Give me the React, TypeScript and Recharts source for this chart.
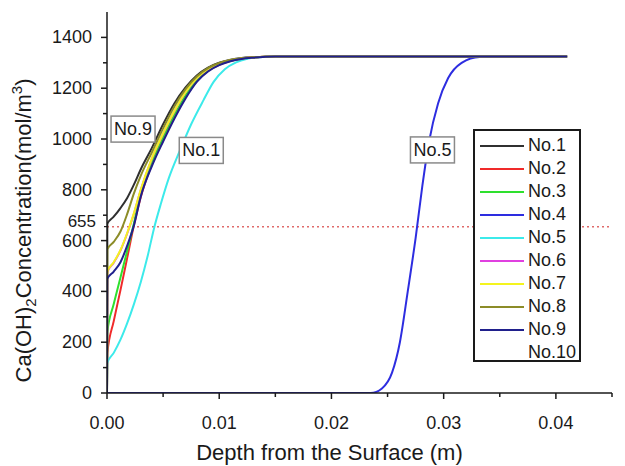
import React from "react";
import {
  LineChart,
  Line,
  XAxis,
  YAxis,
  ReferenceLine,
  ReferenceDot,
  Legend,
  Label,
} from "recharts";

// depth (m), concentration (mol/m3) pairs
const no1 = [[0, 0], [0.00003, 666], [0.0006, 694], [0.0012, 728], [0.0018, 768], [0.0025, 830], [0.003, 880], [0.004, 965], [0.005, 1058], [0.006, 1140], [0.007, 1203], [0.008, 1250], [0.009, 1281], [0.01, 1300], [0.011, 1312], [0.012, 1319], [0.013, 1322], [0.015, 1325], [0.041, 1325]];
const no2 = [[0, 0], [0.00003, 157], [0.0006, 283], [0.0012, 405], [0.0018, 532], [0.0024, 660], [0.003, 770], [0.004, 900], [0.005, 995], [0.006, 1085], [0.007, 1165], [0.008, 1228], [0.009, 1268], [0.01, 1292], [0.011, 1307], [0.012, 1316], [0.013, 1321], [0.015, 1325], [0.041, 1325]];
const no3 = [[0, 0], [0.00003, 240], [0.0006, 350], [0.0012, 455], [0.0018, 560], [0.0024, 668], [0.003, 785], [0.004, 910], [0.005, 1006], [0.006, 1095], [0.007, 1171], [0.008, 1232], [0.009, 1270], [0.01, 1294], [0.011, 1308], [0.012, 1317], [0.013, 1321], [0.015, 1325], [0.041, 1325]];
const no4 = [[0, 0], [0.0235, 0], [0.0245, 18], [0.0254, 80], [0.0261, 200], [0.0268, 400], [0.0275, 610], [0.0281, 815], [0.0287, 990], [0.0295, 1140], [0.0304, 1240], [0.0316, 1300], [0.0332, 1323], [0.041, 1325]];
const no5 = [[0, 0], [0.00003, 118], [0.0006, 158], [0.0012, 210], [0.0018, 275], [0.0024, 350], [0.003, 435], [0.0036, 535], [0.0042, 650], [0.0048, 745], [0.0055, 845], [0.0065, 955], [0.0075, 1058], [0.0086, 1153], [0.0095, 1225], [0.0105, 1275], [0.0115, 1302], [0.0125, 1316], [0.0135, 1322], [0.015, 1325], [0.041, 1325]];
const no6 = [[0, 0], [0.00003, 476], [0.0006, 513], [0.0012, 561], [0.0018, 628], [0.0024, 706], [0.003, 798], [0.004, 923], [0.005, 1020], [0.006, 1108], [0.007, 1184], [0.008, 1239], [0.009, 1275], [0.01, 1296], [0.011, 1309], [0.012, 1317], [0.013, 1321], [0.015, 1325], [0.041, 1325]];
const no7 = [[0, 0], [0.00003, 478], [0.0006, 515], [0.0012, 563], [0.0018, 630], [0.0024, 708], [0.003, 800], [0.004, 925], [0.005, 1022], [0.006, 1110], [0.007, 1185], [0.008, 1240], [0.009, 1276], [0.01, 1297], [0.011, 1310], [0.012, 1317], [0.013, 1321], [0.015, 1325], [0.041, 1325]];
const no8 = [[0, 0], [0.00003, 566], [0.0006, 595], [0.0012, 636], [0.0018, 705], [0.0024, 786], [0.003, 855], [0.004, 948], [0.005, 1042], [0.006, 1128], [0.007, 1196], [0.008, 1246], [0.009, 1279], [0.01, 1299], [0.011, 1311], [0.012, 1318], [0.013, 1322], [0.015, 1325], [0.041, 1325]];
const no9 = [[0, 0], [0.00003, 449], [0.0006, 478], [0.0012, 515], [0.0018, 580], [0.0024, 660], [0.003, 772], [0.004, 893], [0.005, 990], [0.006, 1080], [0.007, 1160], [0.008, 1225], [0.009, 1266], [0.01, 1291], [0.011, 1306], [0.012, 1315], [0.013, 1320], [0.015, 1325], [0.041, 1325]];

const seriesNames = ["No.1", "No.2", "No.3", "No.4", "No.5", "No.6", "No.7", "No.8", "No.9", "No.10"];
const seriesData = [no1, no2, no3, no4, no5, no6, no7, no8, no9];
const colors = ["#303030", "#f02a2a", "#2ee02e", "#2d2de0", "#3ceaea", "#e040e0", "#f4f41e", "#8c8c28", "#20208c"];

const xTicks = [0, 0.005, 0.01, 0.015, 0.02, 0.025, 0.03, 0.035, 0.04, 0.045];
const yTicks = [0, 100, 200, 300, 400, 500, 600, 655, 700, 800, 900, 1000, 1100, 1200, 1300, 1400];
const criticalValue = 655;

// in-plot callouts: text, depth, concentration
const callouts = [
  { text: "No.9", d: 0.00232, c: 1039 },
  { text: "No.1", d: 0.0084, c: 955 },
  { text: "No.5", d: 0.029, c: 957 },
];

const font = '"Liberation Sans", Arial, sans-serif';
const ink = "#1a1a1a";

const XTick = ({ x, y, payload }: any) => {
  const v = payload.value;
  const major = Math.round(v * 1000) % 10 === 0;
  return (
    <g>
      <line x1={x} x2={x} y1={y} y2={y + (major ? 6 : 4)} stroke={ink} strokeWidth={1.5} />
      {major && (
        <text x={x} y={y + 30} textAnchor="middle" dominantBaseline="central" fontSize={18} fontFamily={font} fill={ink}>
          {v.toFixed(2)}
        </text>
      )}
    </g>
  );
};

const YTick = ({ x, y, payload }: any) => {
  const v = payload.value;
  if (v === criticalValue) {
    return (
      <g>
        <line x1={x - 3} x2={x} y1={y} y2={y} stroke={ink} strokeWidth={1.2} />
        <text x={x - 11} y={y - 5} textAnchor="end" dominantBaseline="central" fontSize={17} fontFamily={font} fill={ink}>
          {v}
        </text>
      </g>
    );
  }
  const major = v % 200 === 0;
  return (
    <g>
      <line x1={x - (major ? 6 : 4)} x2={x} y1={y} y2={y} stroke={ink} strokeWidth={1.5} />
      {major && (
        <text x={x - 15} y={y} textAnchor="end" dominantBaseline="central" fontSize={18} fontFamily={font} fill={ink}>
          {v}
        </text>
      )}
    </g>
  );
};

const Callout = ({ cx, cy, text }: any) => (
  <g>
    <rect x={cx - 22} y={cy - 13} width={44} height={26} fill="#fff" stroke="#8a8a8a" strokeWidth={1.5} />
    <text x={cx} y={cy} textAnchor="middle" dominantBaseline="central" fontSize={18} fontFamily={font} fill={ink}>
      {text}
    </text>
  </g>
);

const LegendBox = ({ payload }: any) => {
  const byName: Record<string, string> = {};
  (payload || []).forEach((p: any) => {
    byName[p.value] = p.color;
  });
  return (
    <div style={{ border: `2px solid ${ink}`, background: "#fff", padding: "3px 0 0 5px", width: 108, height: 233, boxSizing: "border-box" }}>
      {seriesNames.map((n) => (
        <div key={n} style={{ display: "flex", alignItems: "center", height: 23 }}>
          <svg width={44} height={6} style={{ marginRight: 4 }}>
            <line x1={0} x2={44} y1={3} y2={3} stroke={byName[n] || "#fff"} strokeWidth={2.2} />
          </svg>
          <span style={{ fontFamily: font, fontSize: 18, color: ink, lineHeight: "23px" }}>{n}</span>
        </div>
      ))}
    </div>
  );
};

const renderXTitle = ({ viewBox }: any) => (
  <text x={viewBox.x + viewBox.width / 2 - 30} y={viewBox.y + 67} textAnchor="middle" fontSize={22} fontFamily={font} fill={ink}>
    Depth from the Surface (m)
  </text>
);

const renderYTitle = ({ viewBox }: any) => {
  const cx = 31;
  const cy = viewBox.y + viewBox.height / 2 + 28;
  return (
    <text x={cx} y={cy} transform={`rotate(-90 ${cx} ${cy})`} textAnchor="middle" fontSize={22} fontFamily={font} fill={ink}>
      Ca(OH)
      <tspan fontSize={15} dy={5}>2</tspan>
      <tspan dy={-5}>Concentration(mol/m</tspan>
      <tspan fontSize={15} dy={-9}>3</tspan>
      <tspan dy={9}>)</tspan>
    </text>
  );
};

export default function App() {
  return (
    <div style={{ position: "absolute", left: 0, top: 0, width: 625, height: 466, background: "#fff" }}>
      <LineChart width={625} height={466} margin={{ top: 12, right: 13, bottom: 0, left: 0 }}>
        <XAxis
          type="number"
          dataKey="d"
          domain={[0, 0.045]}
          ticks={xTicks}
          interval={0}
          tick={<XTick />}
          tickLine={false}
          tickSize={0}
          tickMargin={0}
          height={73}
          axisLine={{ stroke: ink, strokeWidth: 1.5 }}
          allowDataOverflow
        >
          <Label content={renderXTitle} />
        </XAxis>
        <YAxis
          type="number"
          dataKey="c"
          domain={[0, 1500]}
          ticks={yTicks}
          interval={0}
          tick={<YTick />}
          tickLine={false}
          tickSize={0}
          tickMargin={0}
          width={107}
          axisLine={{ stroke: ink, strokeWidth: 1.5 }}
          allowDataOverflow
        >
          <Label content={renderYTitle} />
        </YAxis>
        <ReferenceLine y={criticalValue} stroke="#e06a6a" strokeWidth={1.5} strokeDasharray="2 3" />
        {seriesData.map((s, i) => (
          <Line
            key={seriesNames[i]}
            name={seriesNames[i]}
            data={s.map(([d, c]) => ({ d, c }))}
            dataKey="c"
            type="monotone"
            stroke={colors[i]}
            strokeWidth={2}
            dot={false}
            activeDot={false}
            isAnimationActive={false}
          />
        ))}
        {callouts.map((a) => (
          <ReferenceDot key={a.text} x={a.d} y={a.c} r={0} shape={(p: any) => <Callout {...p} text={a.text} />} />
        ))}
        <Legend
          layout="vertical"
          align="center"
          verticalAlign="middle"
          content={<LegendBox />}
          wrapperStyle={{ left: 473, top: 129, width: 108 }}
        />
      </LineChart>
    </div>
  );
}
